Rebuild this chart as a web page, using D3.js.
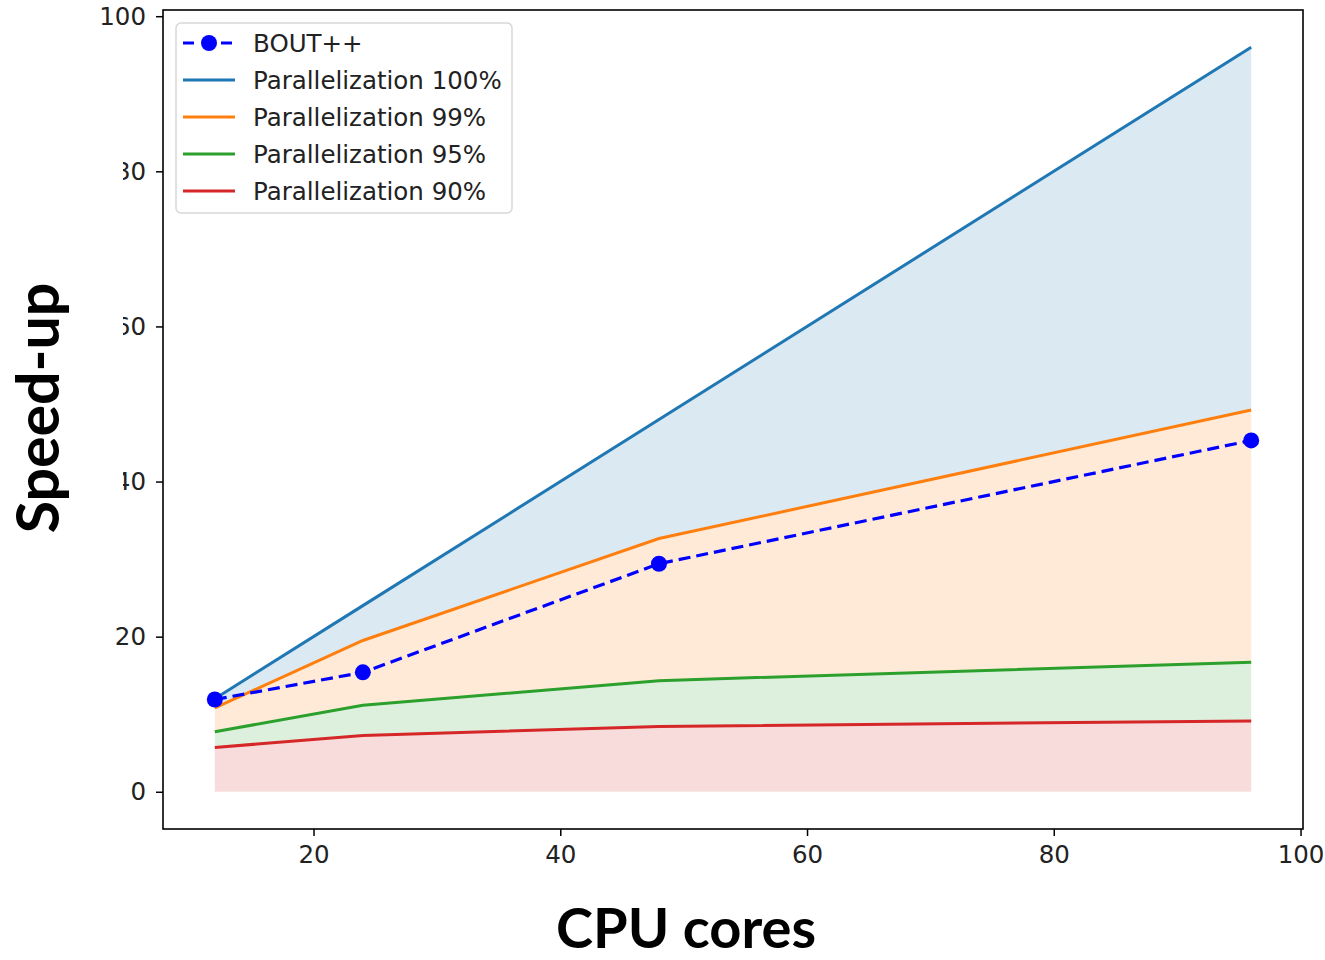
<!DOCTYPE html>
<html>
<head>
<meta charset="utf-8">
<script src="https://cdn.jsdelivr.net/npm/d3@7"></script>
<style>
  body { margin: 0; background: #fff; }
  svg { display: block; }
</style>
</head>
<body>
<svg></svg>
<script>
// data
const CORES = [12, 24, 48, 96];
const BOUT = [11.9, 15.4, 29.4, 45.3];
const PAR_100 = [12, 24, 48, 96];
const PAR_99 = [10.81, 19.51, 32.65, 49.23];
const PAR_95 = [7.74, 11.16, 14.33, 16.7];
const PAR_90 = [5.71, 7.27, 8.42, 9.14];
const X_TICKS = [20, 40, 60, 80, 100];
const Y_TICKS = [0, 20, 40, 60, 80, 100];

const SERIES = [
  { name: 'Parallelization 100%', values: PAR_100, color: '#1f77b4' },
  { name: 'Parallelization 99%', values: PAR_99, color: '#ff7f0e' },
  { name: 'Parallelization 95%', values: PAR_95, color: '#2ca02c' },
  { name: 'Parallelization 90%', values: PAR_90, color: '#d62728' }
];

let SVG = d3.select('svg').attr('width', 1325).attr('height', 960);

const LEFT = 163, RIGHT = 1303, TOP = 10, BOTTOM = 829;

// matplotlib-like 5% margins
let xScale = d3.scaleLinear().domain([7.8, 100.2]).range([LEFT, RIGHT]);
let yScale = d3.scaleLinear().domain([-4.8, 100.8]).range([BOTTOM, TOP]);

// fills between neighbouring curves
const fillBelow = [PAR_99, PAR_95, PAR_90, CORES.map(() => 0)];
SERIES.forEach((s, i) => {
  let area = d3.area()
    .x((d, j) => xScale(CORES[j]))
    .y0((d, j) => yScale(fillBelow[i][j]))
    .y1((d) => yScale(d));
  SVG.append('path')
    .datum(s.values)
    .attr('d', area)
    .attr('fill', s.color)
    .attr('fill-opacity', 0.16);
});

// lines
let line = d3.line().x((d, j) => xScale(CORES[j])).y((d) => yScale(d));
SERIES.forEach((s) => {
  SVG.append('path')
    .datum(s.values)
    .attr('d', line)
    .attr('fill', 'none')
    .attr('stroke', s.color)
    .attr('stroke-width', 3);
});

// BOUT++ dashed with markers
SVG.append('path')
  .datum(BOUT)
  .attr('d', line)
  .attr('fill', 'none')
  .attr('stroke', '#0000ff')
  .attr('stroke-width', 3.2)
  .attr('stroke-dasharray', '12,6');

SVG.selectAll('.bout-dot')
  .data(BOUT)
  .enter()
  .append('circle')
  .attr('class', 'bout-dot')
  .attr('cx', (d, j) => xScale(CORES[j]))
  .attr('cy', (d) => yScale(d))
  .attr('r', 8)
  .attr('fill', '#0000ff');

// axes
let xAxisBottom = d3.axisBottom(xScale).tickValues(X_TICKS).tickSizeInner(7).tickSizeOuter(0).tickPadding(10);
let xAxisG = SVG.append('g').attr('transform', `translate(0,${BOTTOM})`);
xAxisBottom(xAxisG);

let yAxisLeft = d3.axisLeft(yScale).tickValues(Y_TICKS).tickSizeInner(7).tickSizeOuter(0).tickPadding(10);
let yAxisG = SVG.append('g').attr('transform', `translate(${LEFT},0)`);
yAxisLeft(yAxisG);

[xAxisG, yAxisG].forEach((g) => {
  g.select('.domain').remove();
  g.selectAll('.tick line').attr('stroke', '#000').attr('stroke-width', 1.5);
  g.selectAll('.tick text')
    .attr('fill', '#222')
    .style('font-family', 'DejaVu Sans')
    .style('font-size', '24.5px');
});

// frame
SVG.append('rect')
  .attr('x', LEFT).attr('y', TOP)
  .attr('width', RIGHT - LEFT).attr('height', BOTTOM - TOP)
  .attr('fill', 'none')
  .attr('stroke', '#000')
  .attr('stroke-width', 1.6);

// the y label sits over part of the tick labels
SVG.append('rect')
  .attr('x', 0).attr('y', 140)
  .attr('width', 123).attr('height', 380)
  .attr('fill', '#fff');

// axis titles
SVG.append('text')
  .attr('x', 686).attr('y', 948)
  .attr('text-anchor', 'middle')
  .style('font-family', 'Lato')
  .style('font-weight', 'bold')
  .style('font-size', '56px')
  .text('CPU cores');

SVG.append('text')
  .attr('transform', 'translate(59,408) rotate(-90)')
  .attr('text-anchor', 'middle')
  .style('font-family', 'Lato')
  .style('font-weight', 'bold')
  .style('font-size', '59px')
  .text('Speed-up');

// legend
let legend = SVG.append('g').attr('transform', 'translate(176,23)');
legend.append('rect')
  .attr('width', 336).attr('height', 190)
  .attr('rx', 5)
  .attr('fill', '#fff')
  .attr('fill-opacity', 0.8)
  .attr('stroke', '#d8d8d8')
  .attr('stroke-width', 1.5);

const LEGEND_ITEMS = [{ name: 'BOUT++', color: '#0000ff', bout: true }].concat(SERIES);
LEGEND_ITEMS.forEach((item, i) => {
  let y = 20 + i * 37;
  let row = legend.append('g').attr('transform', `translate(0,${y})`);
  if (item.bout) {
    row.append('line')
      .attr('x1', 7).attr('x2', 59)
      .attr('stroke', item.color).attr('stroke-width', 3.2)
      .attr('stroke-dasharray', '11,8');
    row.append('circle').attr('cx', 33).attr('r', 8).attr('fill', item.color);
  } else {
    row.append('line')
      .attr('x1', 7).attr('x2', 59)
      .attr('stroke', item.color).attr('stroke-width', 3);
  }
  row.append('text')
    .attr('x', 77).attr('dy', '0.35em')
    .attr('fill', '#222')
    .style('font-family', 'DejaVu Sans')
    .style('font-size', '24.5px')
    .text(item.name);
});
</script>
</body>
</html>
